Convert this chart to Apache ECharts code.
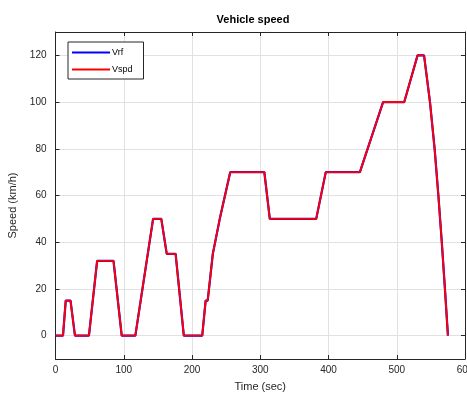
<!DOCTYPE html>
<html>
<head>
<meta charset="utf-8">
<script src="https://cdn.jsdelivr.net/npm/echarts@6/dist/echarts.min.js"></script>
<style>
  html, body { margin: 0; padding: 0; background: #fff; }
  #main { width: 467px; height: 394px; }
</style>
</head>
<body>
<div id="main"></div>
<script>
// time (sec) of each breakpoint
var timeSec = [0, 11, 15, 22, 28.5, 49, 61, 85, 97, 117, 143, 155, 163, 176, 188, 215,
    220, 223, 230.5, 232.5, 240.7, 242.6, 256, 306, 314, 382, 396, 446, 480, 511,
    530.5, 540, 548.7, 555.5, 561, 566, 570.6, 575];
// reference speed
var vrf = [0, 0, 15, 15, 0, 0, 32, 32, 0, 0, 50, 50, 35, 35, 0, 0,
    15, 15, 35, 35, 50, 50, 70, 70, 50, 50, 70, 70, 100, 100,
    120, 120, 100, 80, 60, 40, 20, 0];
// measured speed
var vspd = [0, 0, 15, 15, 0, 0, 32, 32, 0, 0, 50, 50, 35, 35, 0, 0,
    15, 15, 35, 35, 50, 50, 70, 70, 50, 50, 70, 70, 100, 100,
    120, 120, 100, 80, 60, 40, 20, 0];
var yTicks = [0, 20, 40, 60, 80, 100, 120];

var axisColor = '#262626';
var font = 'Liberation Sans, Arial, sans-serif';

function pairs(t, v) {
    var out = [];
    for (var i = 0; i < t.length; i++) {
        out.push([t[i], v[i]]);
    }
    return out;
}

var option = {
    animation: false,
    backgroundColor: '#fff',
    textStyle: {fontFamily: font},
    title: {
        text: 'Vehicle speed',
        left: 248,
        top: 9,
        textAlign: 'center',
        textStyle: {fontSize: 11, fontWeight: 'bold', color: '#000', fontFamily: font}
    },
    legend: {
        orient: 'vertical',
        left: 68,
        top: 42,
        data: ['Vrf', 'Vspd'],
        icon: 'rect',
        itemWidth: 38,
        itemHeight: 2,
        itemGap: 8,
        padding: [6, 11, 5, 4],
        backgroundColor: '#fff',
        borderColor: axisColor,
        borderWidth: 1,
        borderRadius: 0,
        textStyle: {fontSize: 9, color: '#000', fontFamily: font, padding: [0, 0, 4, -3]}
    },
    grid: {left: 55.5, right: 2, top: 32, bottom: 35, outerBoundsMode: 'none'},
    xAxis: [
        {
            type: 'value',
            min: 0, max: 600, interval: 100,
            name: 'Time (sec)',
            nameLocation: 'middle',
            nameGap: 22,
            nameTextStyle: {fontSize: 11, color: axisColor, fontFamily: font},
            axisLine: {onZero: false, lineStyle: {color: axisColor, width: 1}},
            axisTick: {inside: true, length: 4, lineStyle: {color: axisColor}},
            axisLabel: {fontSize: 10, color: axisColor, margin: 6, fontFamily: font},
            splitLine: {show: true, lineStyle: {color: '#e1e1e1', width: 1}}
        },
        {
            type: 'value',
            position: 'top',
            min: 0, max: 600, interval: 100,
            axisLine: {onZero: false, lineStyle: {color: axisColor, width: 1}},
            axisTick: {inside: true, length: 4, lineStyle: {color: axisColor}},
            axisLabel: {show: false},
            splitLine: {show: false}
        }
    ],
    yAxis: [
        {
            type: 'value',
            min: -10, max: 130,
            name: 'Speed (km/h)',
            nameLocation: 'middle',
            nameGap: 34,
            nameTextStyle: {fontSize: 11, color: axisColor, fontFamily: font, padding: [0, 20, 0, 0]},
            axisLine: {show: true, onZero: false, lineStyle: {color: axisColor, width: 1}},
            axisTick: {show: true, inside: true, length: 4, customValues: yTicks, lineStyle: {color: axisColor}},
            axisLabel: {fontSize: 10, color: axisColor, margin: 9, customValues: yTicks, fontFamily: font},
            splitLine: {show: true, lineStyle: {color: '#e1e1e1', width: 1}}
        },
        {
            type: 'value',
            position: 'right',
            min: -10, max: 130,
            axisLine: {show: true, onZero: false, lineStyle: {color: axisColor, width: 1}},
            axisTick: {show: true, inside: true, length: 4, customValues: yTicks, lineStyle: {color: axisColor}},
            axisLabel: {show: false},
            splitLine: {show: false}
        }
    ],
    series: [
        {
            name: 'Vrf',
            type: 'line',
            data: pairs(timeSec, vrf),
            showSymbol: false,
            symbol: 'none',
            itemStyle: {color: '#0000ff'},
            lineStyle: {color: '#0000ff', width: 2.2}
        },
        {
            name: 'Vspd',
            type: 'line',
            data: pairs(timeSec, vspd),
            showSymbol: false,
            symbol: 'none',
            itemStyle: {color: '#ff0000'},
            lineStyle: {color: '#ff0000', width: 1.9}
        }
    ]
};

var myChart = echarts.init(document.getElementById('main'));
myChart.setOption(option);
</script>
</body>
</html>
